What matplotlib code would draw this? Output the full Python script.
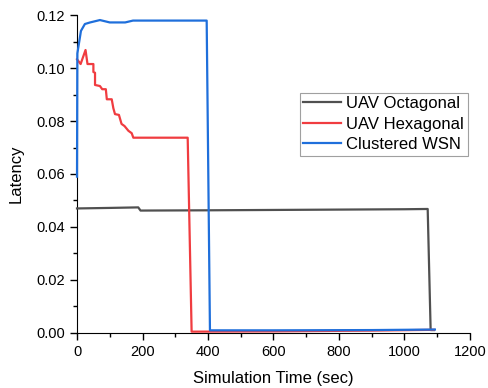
import matplotlib
matplotlib.use("Agg")
import matplotlib.pyplot as plt
from matplotlib.ticker import MultipleLocator

plt.rcParams['font.family'] = ['Liberation Sans', 'DejaVu Sans']

oct_t = [0, 100, 187, 194, 400, 700, 1000, 1071, 1080, 1090]
oct_v = [0.0470, 0.0472, 0.0474, 0.0462, 0.0463, 0.0465, 0.0467, 0.0468, 0.0011, 0.0011]

hex_t = [0, 11, 26, 32, 50, 50, 55, 55, 70, 77, 88, 91, 106, 111, 116, 128, 136, 145, 157, 167, 172, 338, 350, 600, 900, 1090]
hex_v = [0.1033, 0.1015, 0.1068, 0.1015, 0.1015, 0.0985, 0.0982, 0.0936, 0.0932, 0.0920, 0.0920, 0.0882, 0.0882,
         0.0848, 0.0826, 0.0823, 0.0789, 0.0781, 0.0763, 0.0754, 0.0737, 0.0737, 0.0005, 0.0006, 0.0009, 0.0012]

wsn_t = [0, 1, 12, 24, 40, 70, 100, 147, 171, 396, 406, 600, 900, 1093]
wsn_v = [0.059, 0.1055, 0.1140, 0.1166, 0.1172, 0.1181, 0.1172, 0.1172, 0.1179, 0.1179, 0.0010, 0.0010, 0.0011, 0.0013]

fig = plt.figure(figsize=(4.89, 3.88), dpi=100)
ax = fig.add_axes([0.1575, 0.1418, 0.8035, 0.8195])

ax.plot(oct_t, oct_v, color='#505050', lw=1.6, label='UAV Octagonal', zorder=3, clip_on=False)
ax.plot(hex_t, hex_v, color='#f03c40', lw=1.6, label='UAV Hexagonal', zorder=3, clip_on=False)
ax.plot(wsn_t, wsn_v, color='#1f6fdb', lw=1.6, label='Clustered WSN', zorder=3, clip_on=False)

ax.set_xlim(0, 1200)
ax.set_ylim(0, 0.12)
ax.xaxis.set_major_locator(MultipleLocator(200))
ax.xaxis.set_minor_locator(MultipleLocator(100))
ax.yaxis.set_major_locator(MultipleLocator(0.02))
ax.yaxis.set_minor_locator(MultipleLocator(0.01))
ax.yaxis.set_major_formatter(matplotlib.ticker.FormatStrFormatter('%.2f'))
for s in ['top', 'right']:
    ax.spines[s].set_visible(False)
ax.tick_params(which='major', direction='out', length=5, width=1, labelsize=10.5)
ax.tick_params(which='minor', direction='out', length=3, width=1)
ax.set_xlabel('Simulation Time (sec)', fontsize=12, labelpad=9)
ax.set_ylabel('Latency', fontsize=12, labelpad=9)

leg = ax.legend(loc='upper left', bbox_to_anchor=(0.567, 0.755), fontsize=12,
                frameon=True, fancybox=False, handlelength=2.3, handletextpad=0.3,
                borderpad=0.2, labelspacing=0.33, borderaxespad=0)
leg.get_frame().set_edgecolor('#888888')
leg.get_frame().set_linewidth(0.8)

fig.savefig('out.png', dpi=100)
